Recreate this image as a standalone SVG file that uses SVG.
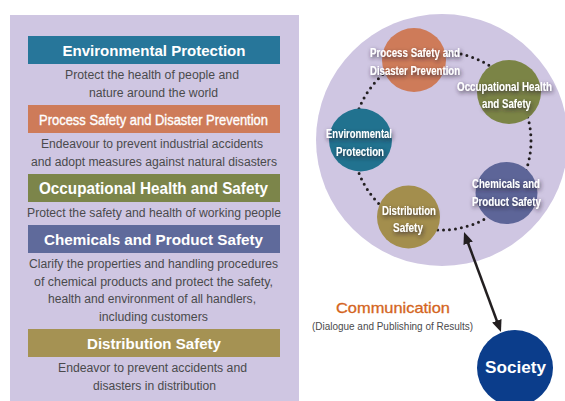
<svg xmlns="http://www.w3.org/2000/svg" width="565" height="401" viewBox="0 0 565 401">
<style>
.bg{fill:#cfc6e2}
.bar-t{font-family:"Liberation Sans",Arial,sans-serif;font-weight:bold;font-size:15px;fill:#fff;text-anchor:middle}
.desc{font-family:"Liberation Sans",Arial,sans-serif;font-size:12.5px;fill:#4a4a4c;text-anchor:middle}
.ct{font-family:"Liberation Sans",Arial,sans-serif;font-weight:bold;font-size:12px;fill:#fff;text-anchor:middle;filter:url(#sh)}
.ring{fill:none;stroke:#231f20;stroke-width:3;stroke-linecap:round;stroke-dasharray:0 6}
.arrow{stroke:#231f20;stroke-width:2.5;fill:none}
</style>
<defs>
<filter id="sh" filterUnits="userSpaceOnUse" x="300" y="0" width="265" height="270">
<feGaussianBlur in="SourceAlpha" stdDeviation="2"/>
<feOffset dx="1" dy="1.5" result="b"/>
<feFlood flood-color="#2a2030" flood-opacity="0.85"/>
<feComposite in2="b" operator="in"/>
<feMerge><feMergeNode/><feMergeNode in="SourceGraphic"/></feMerge>
</filter>
<marker id="ah" viewBox="0 0 12 10" refX="8" refY="5" markerWidth="12" markerHeight="10" markerUnits="userSpaceOnUse" orient="auto-start-reverse">
<path d="M0,0 L12,5 L0,10 z" fill="#231f20"/>
</marker>
</defs>

<rect class="bg" x="10" y="15" width="289" height="386"/>

<g id="list-environmental">
<rect x="28" y="36" width="252" height="28" fill="#27769a"/>
<text class="bar-t" x="154" y="55.5" textLength="183" lengthAdjust="spacingAndGlyphs">Environmental Protection</text>
<text class="desc" x="152" y="79" textLength="174" lengthAdjust="spacingAndGlyphs">Protect the health of people and</text>
<text class="desc" x="153.5" y="96.5" textLength="129" lengthAdjust="spacingAndGlyphs">nature around the world</text>
</g>
<g id="list-process">
<rect x="28" y="105" width="252" height="28" fill="#ce7b59"/>
<text class="bar-t" x="153.5" y="124.5" style="font-weight:normal;font-size:14.5px;stroke:#fff;stroke-width:0.35" textLength="229" lengthAdjust="spacingAndGlyphs">Process Safety and Disaster Prevention</text>
<text class="desc" x="152" y="148" textLength="222" lengthAdjust="spacingAndGlyphs">Endeavour to prevent industrial accidents</text>
<text class="desc" x="154" y="165.5" textLength="246" lengthAdjust="spacingAndGlyphs">and adopt measures against natural disasters</text>
</g>
<g id="list-occupational">
<rect x="28" y="174" width="252" height="28" fill="#7c854a"/>
<text class="bar-t" x="153.5" y="193.5" style="font-size:16px" textLength="229" lengthAdjust="spacingAndGlyphs">Occupational Health and Safety</text>
<text class="desc" x="154" y="217" textLength="254" lengthAdjust="spacingAndGlyphs">Protect the safety and health of working people</text>
</g>
<g id="list-chemicals">
<rect x="28" y="225" width="252" height="28" fill="#5f6a9b"/>
<text class="bar-t" x="153.5" y="245" textLength="219" lengthAdjust="spacingAndGlyphs">Chemicals and Product Safety</text>
<text class="desc" x="153.5" y="268" textLength="249" lengthAdjust="spacingAndGlyphs">Clarify the properties and handling procedures</text>
<text class="desc" x="153.5" y="285.5" textLength="239" lengthAdjust="spacingAndGlyphs">of chemical products and protect the safety,</text>
<text class="desc" x="152" y="303" textLength="208" lengthAdjust="spacingAndGlyphs">health and environment of all handlers,</text>
<text class="desc" x="153.5" y="320.5" textLength="109" lengthAdjust="spacingAndGlyphs">including customers</text>
</g>
<g id="list-distribution">
<rect x="28" y="329" width="252" height="28" fill="#a59253"/>
<text class="bar-t" x="154" y="349" textLength="134" lengthAdjust="spacingAndGlyphs">Distribution Safety</text>
<text class="desc" x="152.5" y="372" textLength="189" lengthAdjust="spacingAndGlyphs">Endeavor to prevent accidents and</text>
<text class="desc" x="154.5" y="389.5" textLength="123" lengthAdjust="spacingAndGlyphs">disasters in distribution</text>
</g>

<circle class="bg" cx="442" cy="140" r="126"/>

<g id="connectors">
<circle class="ring" cx="442" cy="141" r="89"/>
<line class="arrow" x1="465.4" y1="235.8" x2="499.6" y2="328.3" marker-start="url(#ah)" marker-end="url(#ah)"/>
</g>

<g id="node-process">
<circle cx="414" cy="60" r="32" fill="#ce7b59"/>
<text class="ct" x="415" y="57" textLength="90" lengthAdjust="spacingAndGlyphs">Process Safety and</text>
<text class="ct" x="415" y="75" textLength="90" lengthAdjust="spacingAndGlyphs">Disaster Prevention</text>
</g>
<g id="node-occupational">
<circle cx="509" cy="92" r="32" fill="#7b8446"/>
<text class="ct" x="504.5" y="91" textLength="95" lengthAdjust="spacingAndGlyphs">Occupational Health</text>
<text class="ct" x="506.5" y="108" textLength="49" lengthAdjust="spacingAndGlyphs">and Safety</text>
</g>
<g id="node-environmental">
<circle cx="360.5" cy="140" r="31.5" fill="#21728f"/>
<text class="ct" x="359" y="137.5" textLength="66" lengthAdjust="spacingAndGlyphs">Environmental</text>
<text class="ct" x="360" y="155.5" textLength="48" lengthAdjust="spacingAndGlyphs">Protection</text>
</g>
<g id="node-chemicals">
<circle cx="506.5" cy="193" r="31" fill="#5d6598"/>
<text class="ct" x="506" y="188" textLength="68" lengthAdjust="spacingAndGlyphs">Chemicals and</text>
<text class="ct" x="506.5" y="206" textLength="69" lengthAdjust="spacingAndGlyphs">Product Safety</text>
</g>
<g id="node-distribution">
<circle cx="408.5" cy="217" r="31.5" fill="#a38e4d"/>
<text class="ct" x="409" y="215" textLength="54" lengthAdjust="spacingAndGlyphs">Distribution</text>
<text class="ct" x="408" y="232" textLength="30" lengthAdjust="spacingAndGlyphs">Safety</text>
</g>

<g id="label-communication">
<text x="393" y="313" font-family="'Liberation Sans',Arial,sans-serif" font-size="14.5" fill="#d4651e" stroke="#d4651e" stroke-width="0.3" text-anchor="middle" textLength="114" lengthAdjust="spacingAndGlyphs">Communication</text>
<text x="392.5" y="329.5" font-family="'Liberation Sans',Arial,sans-serif" font-size="11.5" fill="#4a4a4c" text-anchor="middle" textLength="161" lengthAdjust="spacingAndGlyphs">(Dialogue and Publishing of Results)</text>
</g>

<g id="node-society">
<circle cx="515" cy="368" r="38" fill="#0b3d8b"/>
<text x="515.5" y="372.5" font-family="'Liberation Sans',Arial,sans-serif" font-weight="bold" font-size="17" fill="#fff" text-anchor="middle" textLength="61" lengthAdjust="spacingAndGlyphs">Society</text>
</g>
</svg>
